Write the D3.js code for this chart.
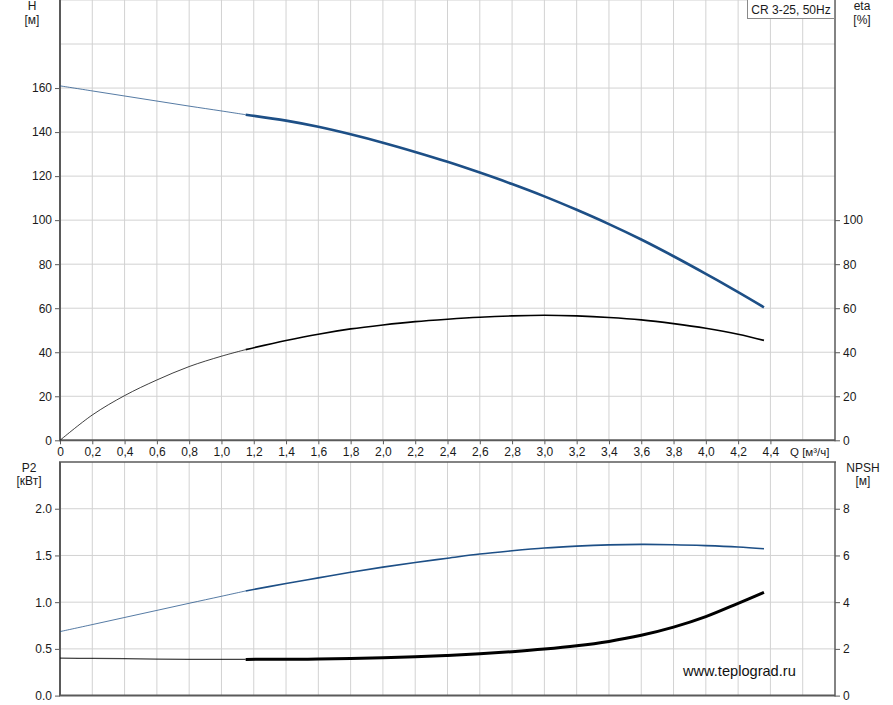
<!DOCTYPE html>
<html>
<head>
<meta charset="utf-8">
<script src="https://cdn.jsdelivr.net/npm/d3@7"></script>
<style>
  html, body { margin: 0; padding: 0; background: #fff; }
  svg { display: block; font-family: "Liberation Sans", Arial, sans-serif; }
</style>
</head>
<body>
<svg id="chart" width="893" height="705"></svg>
<script>
// ---- data ----
const flow = [0, 0.2, 0.4, 0.6, 0.8, 1.0, 1.15, 1.4, 1.6, 1.8, 2.0, 2.2, 2.4, 2.6, 2.8, 3.0, 3.2, 3.4, 3.6, 3.8, 4.0, 4.2, 4.36];
const head = [161, 158.7, 156.4, 154.1, 151.8, 149.6, 147.9, 145.2, 142.4, 139.0, 135.2, 131.0, 126.5, 121.6, 116.4, 110.8, 104.7, 98.2, 91.2, 83.6, 75.6, 67.3, 60.4];
const eta = [0, 11.5, 20.3, 27.4, 33.5, 38.2, 41.2, 45.3, 48.2, 50.6, 52.4, 53.9, 55.0, 55.9, 56.5, 56.8, 56.5, 55.8, 54.7, 53.0, 50.9, 48.2, 45.4];
const power = [0.685, 0.76, 0.836, 0.912, 0.988, 1.063, 1.12, 1.2, 1.26, 1.32, 1.375, 1.425, 1.47, 1.515, 1.55, 1.58, 1.60, 1.613, 1.618, 1.615, 1.605, 1.59, 1.572];
const npsh = [1.6, 1.59, 1.58, 1.565, 1.555, 1.55, 1.55, 1.555, 1.565, 1.585, 1.615, 1.66, 1.72, 1.79, 1.88, 1.99, 2.13, 2.32, 2.58, 2.93, 3.38, 3.95, 4.42];
const splitQ = 1.15;
const qTicks = [0, 0.2, 0.4, 0.6, 0.8, 1.0, 1.2, 1.4, 1.6, 1.8, 2.0, 2.2, 2.4, 2.6, 2.8, 3.0, 3.2, 3.4, 3.6, 3.8, 4.0, 4.2, 4.4];
const qGrid = [0.2, 0.4, 0.6, 0.8, 1.0, 1.2, 1.4, 1.6, 1.8, 2.0, 2.2, 2.4, 2.6, 2.8, 3.0, 3.2, 3.4, 3.6, 3.8, 4.0, 4.2, 4.4, 4.6];
const hTicks = [0, 20, 40, 60, 80, 100, 120, 140, 160];
const hGrid = [20, 40, 60, 80, 100, 120, 140, 160, 180, 200];
const etaTicks = [0, 20, 40, 60, 80, 100];
const pTicks = [0, 0.5, 1.0, 1.5, 2.0];
const npshTicks = [0, 2, 4, 6, 8];
const title = "CR 3-25, 50Hz";
const watermark = "www.teplograd.ru";

// ---- layout ----
const svg = d3.select("#chart");
const L = 60, R = 835;
const topT = 0, topB = 440.3;
const botT = 462, botB = 695.6;

const x = d3.scaleLinear().domain([0, 4.8]).range([L, R]);
const yH = d3.scaleLinear().domain([0, 200]).range([topB, topT]);
const yEta = d3.scaleLinear().domain([0, 200]).range([topB, topT]);
const yP = d3.scaleLinear().domain([0, 2.5]).range([botB, botT]);
const yN = d3.scaleLinear().domain([0, 10]).range([botB, botT]);

const gridColor = "#d2d2d2";
const axisColor = "#5a5a5a";
const textColor = "#1a1a1a";
const blue = "#1d4f86";

// grids
const grid = svg.append("g");
[[topT, topB], [botT, botB]].forEach(([t, b]) => {
  grid.selectAll(null).data(qGrid).enter().append("line")
    .attr("x1", d => x(d)).attr("x2", d => x(d))
    .attr("y1", t).attr("y2", b)
    .attr("stroke", gridColor).attr("stroke-width", 1);
});
grid.selectAll(null).data(hGrid).enter().append("line")
  .attr("x1", L).attr("x2", R)
  .attr("y1", d => yH(d)).attr("y2", d => yH(d))
  .attr("stroke", gridColor).attr("stroke-width", 1);
grid.selectAll(null).data([0.5, 1.0, 1.5, 2.0]).enter().append("line")
  .attr("x1", L).attr("x2", R)
  .attr("y1", d => yP(d)).attr("y2", d => yP(d))
  .attr("stroke", gridColor).attr("stroke-width", 1);

// axes
function styleAxis(g) {
  g.selectAll("path").remove();
  g.selectAll("line").attr("stroke", axisColor);
  g.selectAll("text").attr("fill", textColor).attr("font-size", 12)
    .attr("font-family", "'Liberation Sans', Arial, sans-serif");
}
const commaFmt = d => d === 0 ? "0" : d3.format(".1f")(d).replace(".", ",");

svg.append("g").attr("transform", `translate(0,${topB})`)
  .call(d3.axisBottom(x).tickValues(qTicks).tickSize(4).tickFormat(commaFmt))
  .call(styleAxis);
svg.append("g").attr("transform", `translate(${L},0)`)
  .call(d3.axisLeft(yH).tickValues(hTicks).tickSize(5).tickFormat(d3.format("d")))
  .call(styleAxis);
svg.append("g").attr("transform", `translate(${R},0)`)
  .call(d3.axisRight(yEta).tickValues(etaTicks).tickSize(5).tickFormat(d3.format("d")))
  .call(styleAxis);
svg.append("g").attr("transform", `translate(${L},0)`)
  .call(d3.axisLeft(yP).tickValues(pTicks).tickSize(5).tickFormat(d3.format(".1f")))
  .call(styleAxis);
svg.append("g").attr("transform", `translate(${R},0)`)
  .call(d3.axisRight(yN).tickValues(npshTicks).tickSize(5).tickFormat(d3.format("d")))
  .call(styleAxis);

// frames
const frame = svg.append("g").attr("stroke", axisColor).attr("fill", "none");
frame.append("line").attr("x1", L).attr("x2", L).attr("y1", topT).attr("y2", topB).attr("stroke-width", 2);
frame.append("line").attr("x1", L - 1).attr("x2", R).attr("y1", topB).attr("y2", topB).attr("stroke-width", 2);
frame.append("line").attr("x1", R).attr("x2", R).attr("y1", topT).attr("y2", topB + 1).attr("stroke-width", 1.5);
frame.append("line").attr("x1", L).attr("x2", L).attr("y1", botT).attr("y2", botB).attr("stroke-width", 2);
frame.append("line").attr("x1", L - 1).attr("x2", R).attr("y1", botB).attr("y2", botB).attr("stroke-width", 2);
frame.append("line").attr("x1", R).attr("x2", R).attr("y1", botT).attr("y2", botB + 1).attr("stroke-width", 1.5);
frame.append("line").attr("x1", L - 1).attr("x2", R + 1).attr("y1", botT).attr("y2", botT).attr("stroke-width", 1.5);

// curves
function drawCurve(vals, yScale, color, thin, thick) {
  const pts = flow.map((q, i) => [q, vals[i]]);
  const line = d3.line().x(d => x(d[0])).y(d => yScale(d[1])).curve(d3.curveCatmullRom.alpha(0.5));
  svg.append("path").datum(pts.filter(d => d[0] <= splitQ))
    .attr("d", line).attr("fill", "none").attr("stroke", color)
    .attr("stroke-width", thin).attr("opacity", 0.75);
  svg.append("path").datum(pts.filter(d => d[0] >= splitQ))
    .attr("d", line).attr("fill", "none").attr("stroke", color)
    .attr("stroke-width", thick).attr("stroke-linecap", "butt");
}
drawCurve(head, yH, blue, 1, 2.6);
drawCurve(eta, yEta, "#000", 1, 1.6);
drawCurve(power, yP, blue, 1, 1.6);
drawCurve(npsh, yN, "#000", 1.2, 3);

// labels
const lab = svg.append("g").attr("fill", textColor).attr("font-size", 12).attr("text-anchor", "middle");
lab.append("text").attr("x", 32).attr("y", 10).text("H");
lab.append("text").attr("x", 32).attr("y", 24).text("[м]");
lab.append("text").attr("x", 862).attr("y", 10).text("eta");
lab.append("text").attr("x", 862).attr("y", 24).text("[%]");
lab.append("text").attr("x", 29).attr("y", 472).text("P2");
lab.append("text").attr("x", 29).attr("y", 485).text("[кВт]");
lab.append("text").attr("x", 863).attr("y", 472).text("NPSH");
lab.append("text").attr("x", 863).attr("y", 485).text("[м]");
svg.append("text").attr("x", 790).attr("y", 456).attr("font-size", 11.5)
  .attr("fill", textColor).text("Q [м³/ч]");

// title box
const tb = svg.append("g");
tb.append("rect").attr("x", 747.5).attr("y", -1).attr("width", 87).attr("height", 19.5)
  .attr("fill", "#fff").attr("stroke", "#8a8a8a").attr("stroke-width", 1);
tb.append("text").attr("x", 791).attr("y", 14).attr("text-anchor", "middle")
  .attr("font-size", 12).attr("fill", textColor).text(title);

// watermark
svg.append("text").attr("x", 683).attr("y", 676).attr("font-size", 14.6)
  .attr("fill", "#111").text(watermark);
</script>
</body>
</html>
